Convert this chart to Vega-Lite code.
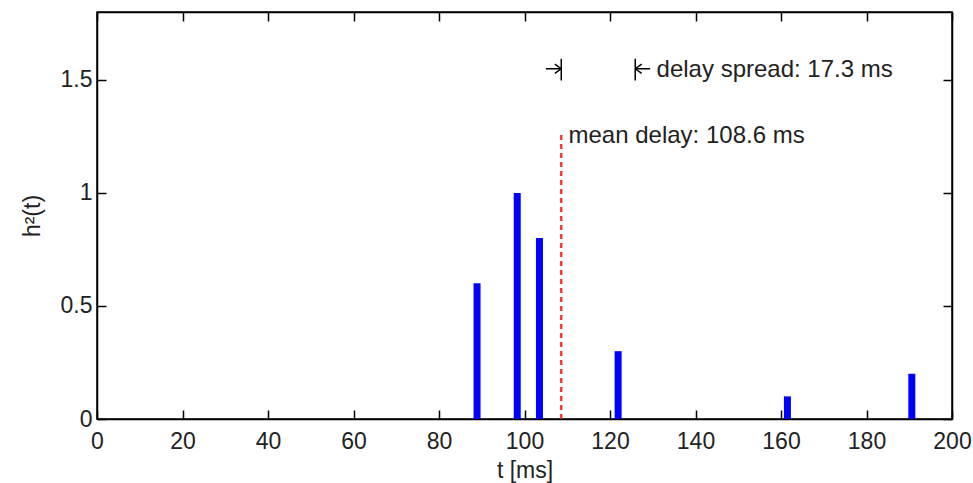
{
  "$schema": "https://vega.github.io/schema/vega-lite/v6.json",
  "width": 855,
  "height": 407,
  "autosize": {"type": "none"},
  "padding": {"left": 97, "top": 12, "right": 21, "bottom": 64},
  "background": "white",
  "config": {
    "view": {"stroke": "black", "strokeWidth": 1.5},
    "scale": {"continuousPadding": 0},
    "font": "Liberation Sans",
    "axis": {
      "labelFont": "Liberation Sans", "titleFont": "Liberation Sans",
      "labelFontSize": 23, "titleFontSize": 23,
      "labelColor": "#222222", "titleColor": "#222222", "titleFontWeight": "normal",
      "domainColor": "black", "tickColor": "black", "grid": false, "labelFlush": false,
      "tickSize": -9, "domainWidth": 1.5, "tickWidth": 1.5
    }
  },
  "datasets": {
    "impulses": [
      {"t": 88.9, "h2": 0.6},
      {"t": 98.3, "h2": 1.0},
      {"t": 103.5, "h2": 0.8},
      {"t": 121.9, "h2": 0.3},
      {"t": 161.5, "h2": 0.1},
      {"t": 190.6, "h2": 0.2}
    ],
    "meanline": [{"t": 108.6, "y0": 0, "y1": 1.27}],
    "segments": [
      {"x": 108.6, "x2": 108.6, "y": 1.497, "y2": 1.593},
      {"x": 105.0, "x2": 108.6, "y": 1.549, "y2": 1.549},
      {"x": 107.1, "x2": 108.6, "y": 1.569, "y2": 1.549},
      {"x": 107.1, "x2": 108.6, "y": 1.529, "y2": 1.549},
      {"x": 125.9, "x2": 125.9, "y": 1.497, "y2": 1.593},
      {"x": 125.9, "x2": 129.4, "y": 1.549, "y2": 1.549},
      {"x": 127.4, "x2": 125.9, "y": 1.569, "y2": 1.549},
      {"x": 127.4, "x2": 125.9, "y": 1.529, "y2": 1.549}
    ],
    "labels": [
      {"x": 110.3, "y": 1.221, "label": "mean delay: 108.6 ms"},
      {"x": 130.9, "y": 1.513, "label": "delay spread: 17.3 ms"}
    ]
  },
  "layer": [
    {
      "data": {"name": "impulses"},
      "mark": {"type": "bar", "size": 7, "color": "#0000ff"},
      "encoding": {
        "x": {"field": "t", "type": "quantitative", "scale": {"domain": [0, 200], "nice": false, "padding": 0},
              "axis": {"orient": "bottom", "title": "t [ms]", "values": [0, 20, 40, 60, 80, 100, 120, 140, 160, 180, 200], "labelPadding": 20, "titlePadding": 6}},
        "y": {"field": "h2", "type": "quantitative", "scale": {"domain": [0, 1.8], "nice": false},
              "axis": {"orient": "left", "title": "h²(t)", "values": [0, 0.5, 1, 1.5], "format": ".1~f", "labelPadding": 14, "titlePadding": 16}}
      }
    },
    {
      "data": {"name": "meanline"},
      "mark": {"type": "rule", "color": "#ff2020", "strokeWidth": 2.2, "strokeDash": [5, 4]},
      "encoding": {
        "x": {"field": "t", "type": "quantitative", "scale": {"domain": [0, 200], "nice": false}, "axis": null},
        "y": {"field": "y0", "type": "quantitative", "scale": {"domain": [0, 1.8], "nice": false}, "axis": null},
        "y2": {"field": "y1"}
      }
    },
    {
      "data": {"name": "segments"},
      "mark": {"type": "rule", "color": "black", "strokeWidth": 1.5},
      "encoding": {
        "x": {"field": "x", "type": "quantitative", "scale": {"domain": [0, 200], "nice": false},
              "axis": {"orient": "top", "title": null, "labels": false, "values": [0, 20, 40, 60, 80, 100, 120, 140, 160, 180, 200]}},
        "x2": {"field": "x2"},
        "y": {"field": "y", "type": "quantitative", "scale": {"domain": [0, 1.8], "nice": false},
              "axis": {"orient": "right", "title": null, "labels": false, "values": [0, 0.5, 1, 1.5]}},
        "y2": {"field": "y2"}
      }
    },
    {
      "data": {"name": "labels"},
      "mark": {"type": "text", "align": "left", "baseline": "alphabetic", "font": "Liberation Sans", "fontSize": 24, "color": "#222222"},
      "encoding": {
        "x": {"field": "x", "type": "quantitative", "scale": {"domain": [0, 200], "nice": false}, "axis": null},
        "y": {"field": "y", "type": "quantitative", "scale": {"domain": [0, 1.8], "nice": false}, "axis": null},
        "text": {"field": "label"}
      }
    }
  ],
  "resolve": {"axis": {"x": "independent", "y": "independent"}}
}
